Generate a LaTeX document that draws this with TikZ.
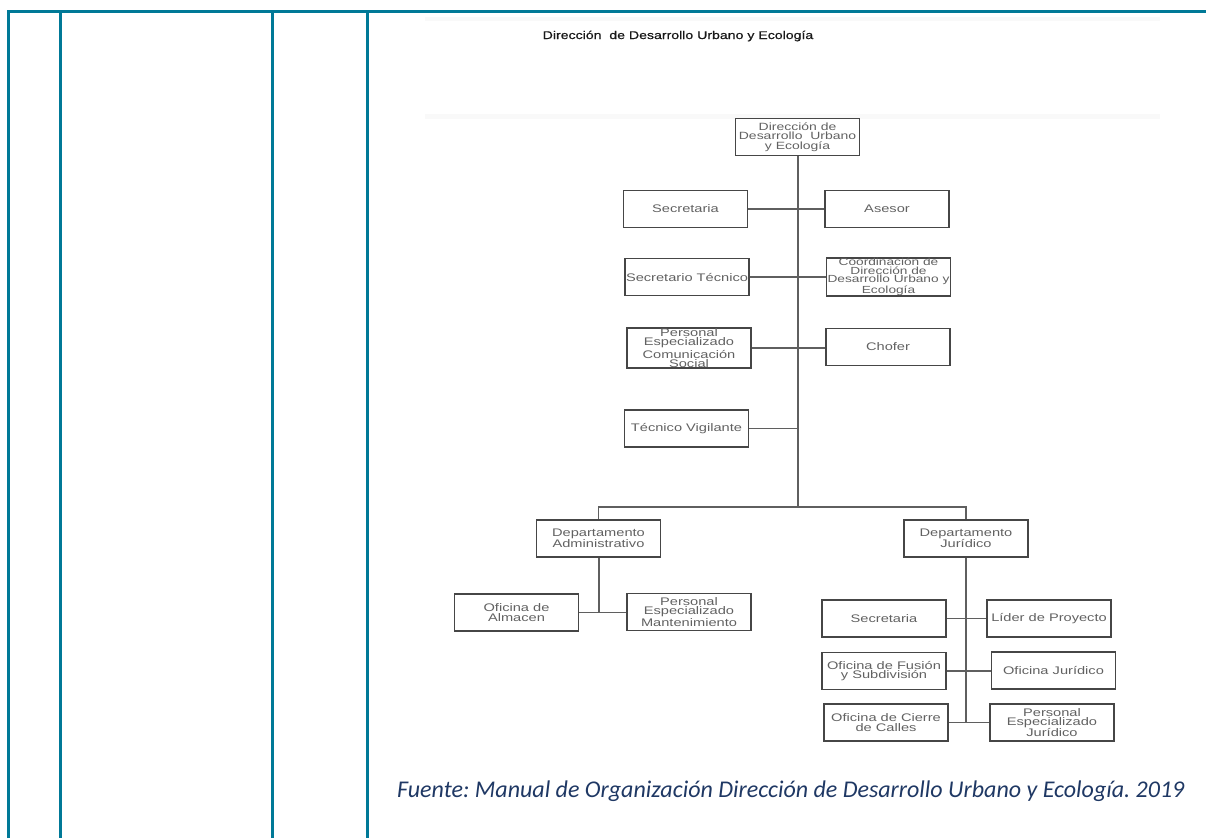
\documentclass[tikz,border=0pt]{standalone}
\usepackage{fontspec}
\setmainfont{Liberation Sans}
\newfontfamily\orgfont[FakeStretch=1.33]{Liberation Sans}
\newfontfamily\headfont[FakeStretch=1.26, FakeBold=0.6]{Liberation Sans}
\newfontfamily\notefont{Carlito}
\definecolor{framecol}{RGB}{0,121,151}
\definecolor{notecol}{RGB}{31,56,100}
\definecolor{boxline}{RGB}{70,70,70}
\definecolor{linkcol}{RGB}{95,95,95}
\tikzset{
  orgbox/.style={draw=boxline, line width=1.8pt, rectangle, minimum width=124pt,
    minimum height=37pt, inner sep=0pt, align=center, text=black!62,
    font=\orgfont\fontsize{11}{9.3}\selectfont},
  link/.style={draw=linkcol, line width=1.1pt},
  trunk/.style={draw=linkcol, line width=2pt},
  tableline/.style={draw=framecol, line width=3pt},
}
\begin{document}
\begin{tikzpicture}[x=1pt, y=-1pt]
\useasboundingbox (0,0) rectangle (1206,838);

% table frame
\coordinate (tl) at (8,11);
\coordinate (tr) at (1206,11);
\draw[tableline] (8,838) -- (tl) -- (tr);
\foreach \cx/\nm in {60/c1, 272/c2, 367/c3} {
  \coordinate (\nm t) at (\cx,11);
  \coordinate (\nm b) at (\cx,838);
  \draw[tableline] (\nm t) -- (\nm b);
}

% faint edges of the embedded chart image
\fill[black!2.5] (425,17) rectangle (1160,21);
\fill[black!2.5] (425,114) rectangle (1160,119);

% heading
\node[anchor=base, text=black!90, font=\headfont\fontsize{11.2}{13}\selectfont, inner sep=0pt]
  (head) at (678,39) {Dirección\ \ de Desarrollo Urbano y Ecología};

% boxes
\node[orgbox, font=\orgfont\fontsize{10.5}{9.6}\selectfont] (top) at (797.5,137)
  {Dirección de\\Desarrollo\ \ Urbano\\y Ecología};

\node[orgbox] (sec)  at (685.5,209) {Secretaria};
\node[orgbox] (ase)  at (887,209) {Asesor};
\node[orgbox] (stec) at (687,277) {Secretario Técnico};
\node[orgbox, font=\orgfont\fontsize{10.3}{8.4}\selectfont] (coord) at (888.5,277)
  {Coordinación de\\Dirección de\\Desarrollo Urbano y\\Ecología};
\node[orgbox] (pecs) at (689,348) {Personal\\Especializado\\[1.5pt]Comunicación\\Social};
\node[orgbox] (chof) at (888,347) {Chofer};
\node[orgbox] (tvig) at (686.5,428.5) {Técnico Vigilante};

\node[orgbox] (adm)  at (598.5,538.5) {Departamento\\Administrativo};
\node[orgbox] (alm)  at (516.5,612.5) {Oficina de\\Almacen};
\node[orgbox] (man)  at (689,612) {Personal\\Especializado\\Mantenimiento};

\node[orgbox] (jur)  at (966,538.5) {Departamento\\Jurídico};
\node[orgbox] (sec2) at (884,618.5) {Secretaria};
\node[orgbox] (lid)  at (1049,618.5) {Líder de Proyecto};
\node[orgbox] (fus)  at (884,671) {Oficina de Fusión\\y Subdivisión};
\node[orgbox] (ofj)  at (1053.5,670.5) {Oficina Jurídico};
\node[orgbox] (cie)  at (886,722.5) {Oficina de Cierre\\de Calles};
\node[orgbox] (pej)  at (1052,722.5) {Personal\\Especializado\\Jurídico};

% main trunk and branch to the two departments
\coordinate (bar) at (0,507);
\draw[trunk] (top.south) -- (top.south |- bar);
\draw[link] (adm.north) -- (adm.north |- bar) -- (jur.north |- bar) -- (jur.north);

% staff attached to the trunk
\draw[link] (sec.east) -- (sec.east -| ase.west);
\draw[link] (stec.east) -- (stec.east -| coord.west);
\draw[link] (pecs.east) -- (pecs.east -| chof.west);
\draw[link] (tvig.east) -- (tvig.east -| top.south);

% administrative department
\draw[trunk] (adm.south) -- (adm.south |- alm.east);
\draw[link] (alm.east) -- (alm.east -| man.west);

% legal department
\draw[trunk] (jur.south) -- (jur.south |- cie.east);
\draw[link] (sec2.east) -- (sec2.east -| lid.west);
\draw[link] (fus.east) -- (fus.east -| ofj.west);
\draw[link] (cie.east) -- (cie.east -| pej.west);

% source note
\node[anchor=base west, inner sep=0pt, text=notecol, font=\notefont\itshape\fontsize{24}{28}\selectfont]
  (note) at (397,797) {\frenchspacing Fuente: Manual de Organización Dirección de Desarrollo Urbano y Ecología. 2019};
\end{tikzpicture}
\end{document}
